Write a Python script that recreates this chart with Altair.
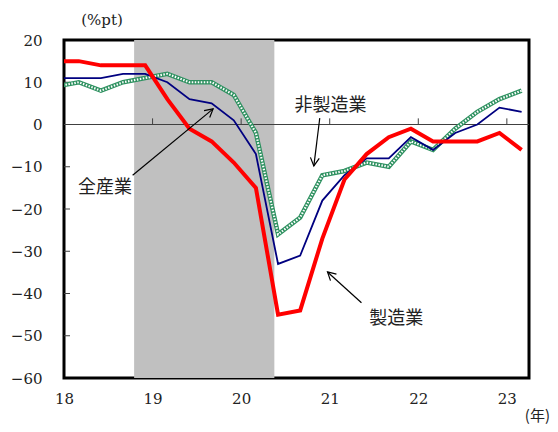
import math
import altair as alt
import pandas as pd

# Quarter-end months (year, month)
quarters = ["17-12", "18-03", "18-06", "18-09", "18-12", "19-03", "19-06", "19-09", "19-12",
            "20-03", "20-06", "20-09", "20-12", "21-03", "21-06", "21-09", "21-12",
            "22-03", "22-06", "22-09", "22-12", "23-03"]
manufacturing = [15, 15, 14, 14, 14, 6, -1, -4, -9, -15, -45, -44, -27, -13, -7, -3, -1,
                 -4, -4, -4, -2, -6]
all_industries = [11, 11, 11, 12, 12, 10, 6, 5, 1, -7, -33, -31, -18, -12, -8, -8, -3,
                  -6, -2, 0, 4, 3]
non_manufacturing = [9, 10, 8, 10, 11, 12, 10, 10, 7, -2, -26, -22, -12, -11, -9, -10, -4,
                     -6, -1, 3, 6, 8]

year_ticks = [0, 12, 24, 36, 48, 60]
y_ticks = [-50, -40, -30, -20, -10, 10]
recession_start, recession_end = 9.5, 28.5

arrow_labels = ["全産業", "非製造業", "製造業"]
arrow_x = [9.3, 34.65, 40.3]
arrow_y = [-12.0, 1.5, -42.2]
arrow_x2 = [20.2, 33.85, 35.7]
arrow_y2 = [3.7, -9.8, -34.9]
label_x = [5.55, 36.1, 45.0]
label_y = [-15.0, 4.4, -46.0]

W, H = 465, 338
XMAX = 63
YMIN, YMAX = -60, 20


def month_index(q):
    yy, mm = q.split("-")
    return (int(yy) - 18) * 12 + int(mm) - 1


xs = [month_index(q) for q in quarters]
df = pd.DataFrame({"m": xs, "mfg": manufacturing, "all": all_industries, "non": non_manufacturing})

xscale = alt.Scale(domain=[0, XMAX], nice=False, zero=False)
yscale = alt.Scale(domain=[YMIN, YMAX], nice=False, zero=False)

X_AX = alt.Axis(values=year_ticks, labelExpr="datum.value/12+18", title=None,
                ticks=False, domain=False, grid=False, labelPadding=13,
                labelFont="DejaVu Serif", labelFontSize=15, labelColor="#222",
                labelFlush=False)
Y_AX = alt.Axis(values=list(range(-60, 21, 10)), title=None, ticks=False,
                domain=False, grid=False, labelPadding=22,
                labelFont="DejaVu Serif", labelFontSize=15, labelColor="#222")


def xq(f):
    return alt.X(f, scale=xscale, axis=X_AX)


def yq(f):
    return alt.Y(f, scale=yscale, axis=Y_AX)


shade = alt.Chart(pd.DataFrame({"s": [recession_start], "e": [recession_end]})).mark_rect(
    color="#C0C0C0").encode(x=xq("s:Q"), x2="e:Q")

zero = alt.Chart(pd.DataFrame({"z": [0]})).mark_rule(color="#404040", strokeWidth=1).encode(
    y=yq("z:Q"))

yt = alt.Chart(pd.DataFrame({"m": year_ticks[1:], "a": 0, "b": 1.45})).mark_rule(
    color="#404040", strokeWidth=1).encode(x=xq("m:Q"), y=yq("a:Q"), y2="b:Q")

lt = alt.Chart(pd.DataFrame({"v": y_ticks})).mark_rule(color="#404040", strokeWidth=1).encode(
    x=alt.value(0), x2=alt.value(6), y=yq("v:Q"))

green_base = alt.Chart(df).mark_line(color="#2E9160", strokeWidth=4.5, clip=True).encode(
    x=xq("m:Q"), y=yq("non:Q"))
green_dots = alt.Chart(df).mark_line(color="white", strokeWidth=2.2, strokeDash=[1.5, 1.5],
                                     clip=True).encode(x=xq("m:Q"), y=yq("non:Q"))
blue = alt.Chart(df).mark_line(color="#000080", strokeWidth=1.8, clip=True).encode(
    x=xq("m:Q"), y=yq("all:Q"))
red = alt.Chart(df).mark_line(color="#FF0000", strokeWidth=4, clip=True).encode(
    x=xq("m:Q"), y=yq("mfg:Q"))

# Arrows
px_x = W / XMAX
px_y = H / (YMAX - YMIN)
angles = []
for x1, y1, x2, y2 in zip(arrow_x, arrow_y, arrow_x2, arrow_y2):
    a = math.degrees(math.atan2((x2 - x1) * px_x, (y2 - y1) * px_y))
    angles.append(a % 360)
adf = pd.DataFrame({"x": arrow_x, "y": arrow_y, "x2": arrow_x2, "y2": arrow_y2,
                    "ang": angles, "lab": arrow_labels, "lx": label_x, "ly": label_y})

arrow_lines = alt.Chart(adf).mark_rule(color="black", strokeWidth=1.2).encode(
    x=xq("x:Q"), y=yq("y:Q"), x2="x2:Q", y2="y2:Q")
arrow_heads = alt.Chart(adf).mark_point(
    shape="M -0.55 1 L 0 0 L 0.55 1", filled=False, color="black", strokeWidth=1.2,
    size=260, opacity=1).encode(
    x=xq("x2:Q"), y=yq("y2:Q"), angle=alt.Angle("ang:Q", scale=None))
labels = alt.Chart(adf).mark_text(font="Noto Sans CJK JP", fontSize=18, color="#222").encode(
    x=xq("lx:Q"), y=yq("ly:Q"), text="lab:N")

unit = alt.Chart(pd.DataFrame({"t": ["(%pt)"]})).mark_text(
    font="DejaVu Serif", fontSize=15, color="#222").encode(
    x=alt.value(38), y=alt.value(-20), text="t:N")
year_unit = alt.Chart(pd.DataFrame({"t": ["(年)"]})).mark_text(
    font="Noto Sans CJK JP", fontSize=15, color="#222", baseline="bottom", align="right").encode(
    x=alt.value(486), y=alt.value(384), text="t:N")

chart = alt.layer(
    shade, zero, yt, lt, green_base, green_dots, blue, red,
    arrow_lines, arrow_heads, labels, unit, year_unit
).properties(
    width=W, height=H,
    autosize=alt.AutoSizeParams(type="none"),
    padding={"left": 56, "top": 32, "right": 21, "bottom": 46},
).configure_view(stroke="black", strokeWidth=3)

chart.save("out.html", embed_options={"renderer": "svg", "actions": False})
